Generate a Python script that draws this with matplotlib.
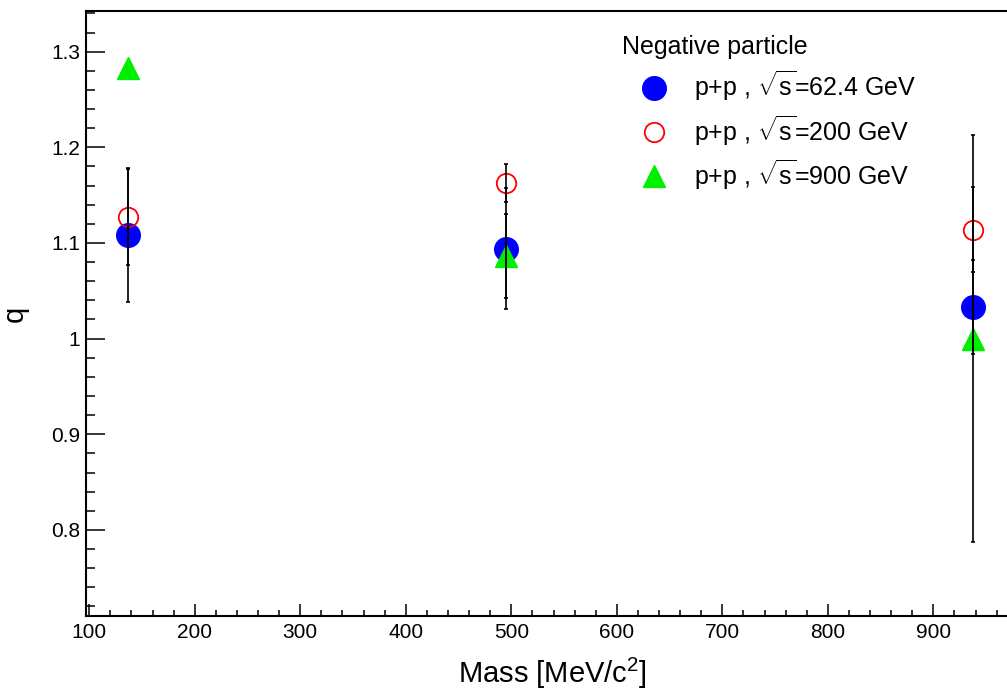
import matplotlib
matplotlib.use("Agg")
import matplotlib.pyplot as plt
from matplotlib.ticker import MultipleLocator, FormatStrFormatter

plt.rcParams['font.family'] = ['Liberation Sans', 'DejaVu Sans']
plt.rcParams['mathtext.fontset'] = 'custom'
plt.rcParams['mathtext.rm'] = 'Liberation Sans'
plt.rcParams['mathtext.it'] = 'Liberation Sans'

# particle masses (pi-, K-, anti-p) as placed on the plot
mass = [137.0, 494.5, 938.0]

# q values and errors per energy
q_62 = [1.108, 1.094, 1.033]
err_62 = [0.070, 0.063, 0.049]
q_200 = [1.127, 1.163, 1.114]
err_200 = [0.050, 0.020, 0.044]
q_900 = [1.283, 1.086, 1.000]
err_900 = [float('nan'), 0.044, 0.213]

labels = [r'p+p , $\sqrt{s}$=62.4 GeV', r'p+p , $\sqrt{s}$=200 GeV', r'p+p , $\sqrt{s}$=900 GeV']

fig = plt.figure(figsize=(10.07, 6.96), dpi=100)
ax = fig.add_axes([0.0854, 0.1149, 0.9146, 0.8693])

ax.plot(mass, q_62, 'o', color='blue', ms=17, label=labels[0], zorder=2)
ax.plot(mass, q_200, 'o', mfc='none', mec='red', mew=1.3, ms=14, label=labels[1], zorder=2)
ax.plot(mass, q_900, '^', color='#00ee00', ms=16, label=labels[2], zorder=2)

for q, e in [(q_62, err_62), (q_200, err_200), (q_900, err_900)]:
    ax.errorbar(mass, q, yerr=e, fmt='none', ecolor='black', elinewidth=1.2,
                capsize=1.5, capthick=1.2, zorder=3)

ax.set_xlim(96.9, 969.8)
ax.set_ylim(0.710, 1.3425)
ax.spines['right'].set_visible(False)
for s in ['left', 'bottom', 'top']:
    ax.spines[s].set_linewidth(1.5)

ax.xaxis.set_major_locator(MultipleLocator(100))
ax.xaxis.set_minor_locator(MultipleLocator(20))
ax.yaxis.set_major_locator(MultipleLocator(0.1))
ax.yaxis.set_minor_locator(MultipleLocator(0.02))
ax.yaxis.set_major_formatter(FormatStrFormatter('%g'))

ax.tick_params(axis='x', which='major', direction='in', length=8.6, width=1.1, labelsize=15, pad=5)
ax.tick_params(axis='x', which='minor', direction='in', length=4.3, width=1.1)
ax.tick_params(axis='y', which='major', direction='in', length=13.7, width=1.1, labelsize=15, pad=4)
ax.tick_params(axis='y', which='minor', direction='in', length=6.5, width=1.1)
ax.tick_params(top=False, right=False, which='both')

ax.set_xlabel(r'Mass [MeV/c$^2$]', fontsize=21)
ax.xaxis.set_label_coords(0.506, -0.065)
ax.set_ylabel('q', fontsize=21)
ax.yaxis.set_label_coords(-0.062, 0.5)

leg = ax.legend(loc='upper left', bbox_to_anchor=(0.582, 0.960), frameon=False,
                fontsize=18, title='Negative particle', title_fontsize=18,
                alignment='left', handlelength=2.56, handletextpad=0.3,
                labelspacing=0.39, borderpad=0, borderaxespad=0, numpoints=1)

fig.savefig('out.png', dpi=100)
